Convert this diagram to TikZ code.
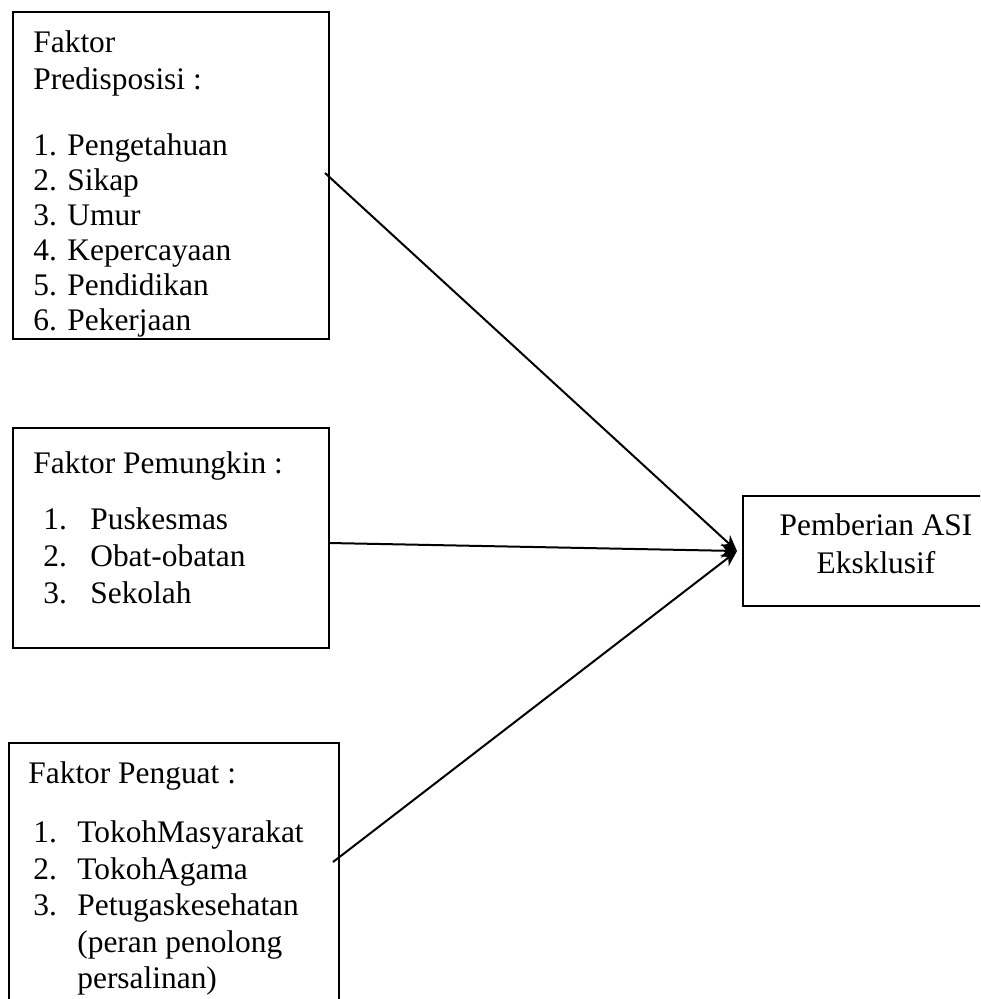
\documentclass[tikz,border=0pt]{standalone}
\usepackage{fontspec}
\setmainfont{Liberation Serif}
\usetikzlibrary{
  arrows.meta,
  fit
}
\tikzset{
  >={Stealth[length=8pt, width=7pt]},
  factor/.style={draw, line width=1pt, inner sep=0pt},
  factortext/.style={anchor=north west, inner sep=0pt, align=left},
  link/.style={->, line width=1pt}
}

\begin{document}
\begin{tikzpicture}[x=0.5pt, y=-0.5pt]
    \clip (0,0) rectangle (980,999);
    \node[factor, fit={(13,12) (329,339)}] (f1) {};
    \node[factor, fit={(13,428) (329,648)}] (f2) {};
    \node[factor, fit={(9,743) (339,1020)}] (f3) {};
    \node[factor, fit={(743,496) (1000,606)}] (asi) {};
    \begin{scope}
      \clip (f1.south west) rectangle (f1.north east);
      \node[factortext, font=\fontsize{15.7pt}{17.5pt}\selectfont] (t1) at (33,30.5)
        {Faktor\\[1pt] Predisposisi :\\[15.5pt] 1. Pengetahuan\\ 2. Sikap\\ 3. Umur\\
         4. Kepercayaan\\ 5. Pendidikan\\ 6. Pekerjaan};
    \end{scope}
    \node[factortext, font=\fontsize{15.7pt}{18.5pt}\selectfont] (t2) at (33,451.5)
      {Faktor Pemungkin :\\[9.5pt]
       \hspace*{5pt}\makebox[23.5pt][l]{1.}Puskesmas\\
       \hspace*{5pt}\makebox[23.5pt][l]{2.}Obat-obatan\\
       \hspace*{5pt}\makebox[23.5pt][l]{3.}Sekolah};
    \node[factortext, font=\fontsize{15.7pt}{18.25pt}\selectfont] (t3) at (28,761.5)
      {Faktor Penguat :\\[11.25pt]
       \hspace*{2.5pt}\makebox[22pt][l]{1.}TokohMasyarakat\\
       \hspace*{2.5pt}\makebox[22pt][l]{2.}TokohAgama\\
       \hspace*{2.5pt}\makebox[22pt][l]{3.}Petugaskesehatan\\
       \hspace*{24.5pt}(peran penolong\\
       \hspace*{24.5pt}persalinan)};
    \node[anchor=north, inner sep=0pt, align=center, font=\fontsize{15.7pt}{19pt}\selectfont] (t4) at (876,513.5)
      {Pemberian ASI\\ Eksklusif};
    \coordinate (o1) at (325,173);
    \coordinate (o2) at (329,543);
    \coordinate (o3) at (333,862);
    \draw[link] (o1) -- ([xshift=-2.5pt]asi.west);
    \draw[link] (o2) -- ([xshift=-2.5pt]asi.west);
    \draw[link] (o3) -- ([xshift=-2.5pt]asi.west);
  \end{tikzpicture}
\end{document}
